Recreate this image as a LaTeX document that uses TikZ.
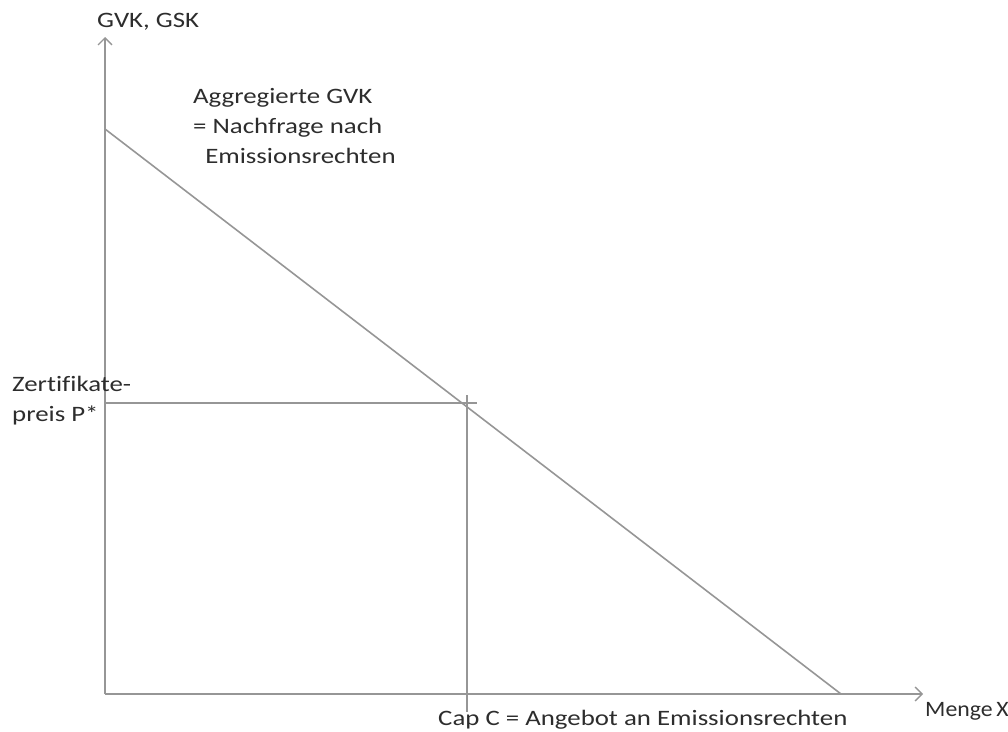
\documentclass[tikz,border=0pt]{standalone}
\usepackage{fontspec}
\setmainfont{Carlito}[FakeStretch=1.22, Ligatures={NoCommon}]
\newfontfamily\narrowfont{Carlito}[FakeStretch=1.08, Ligatures={NoCommon}]
\usetikzlibrary{arrows.meta}
\definecolor{axisgray}{RGB}{150,150,150}
\definecolor{textgray}{RGB}{45,45,45}

\begin{document}
\begin{tikzpicture}[x=1pt, y=-1pt,
 font=\fontsize{22}{30}\selectfont,
 lbl/.style={text=textgray, inner sep=0pt, anchor=base west, align=left},
 axis/.style={-{Straight Barb[length=7pt, width=14pt]}, line width=1.3pt, color=axisgray},
 curve/.style={line width=1.6pt, color=axisgray}]
\useasboundingbox (0,0) rectangle (1008,731);
% axes
\coordinate (O) at (105,694);
\coordinate (ytop) at (105,37);
\coordinate (xend) at (923,694);
\draw[axis] (O) -- (ytop);
\draw[axis] (O) -- (xend);
% demand for permits
\coordinate (dtop) at (105,129);
\coordinate (dbot) at (841,694);
\draw[curve] (dtop) -- (dbot);
% price and cap
\coordinate (pleft) at (105,403);
\coordinate (pright) at (477,403);
\coordinate (ctop) at (467,395);
\coordinate (cbot) at (467,712);
\draw[curve] (pleft) -- (pright);
\draw[curve] (ctop) -- (cbot);
% labels
\node[lbl] (ylabel) at (97,27) {GVK, GSK};
\node[lbl, font=\narrowfont\fontsize{22}{30}\selectfont] (xlabel) at (925,716) {Menge\,X};
\node[lbl, anchor=north west] (demand) at (193,88) {Aggregierte GVK\\= Nachfrage nach\\\hspace*{0.55em}Emissionsrechten};
\node[lbl, anchor=north west] (price) at (12,376) {Zertifikate-\\preis P*};
\node[lbl] (cap) at (438,725) {Cap C = Angebot an Emissionsrechten};
\end{tikzpicture}
\end{document}
